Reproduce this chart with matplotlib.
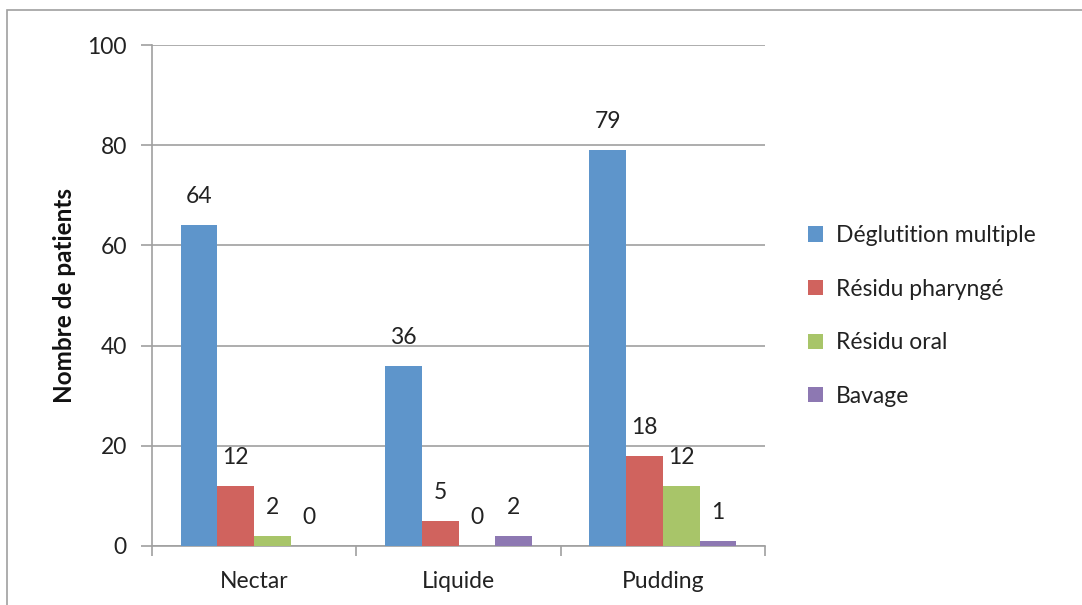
import matplotlib
matplotlib.use("Agg")
import matplotlib.pyplot as plt
from matplotlib.patches import Rectangle
import numpy as np

plt.rcParams['font.family'] = ['Lato', 'DejaVu Sans']

categories = ["Nectar", "Liquide", "Pudding"]
series_names = ["Déglutition multiple", "Résidu pharyngé", "Résidu oral", "Bavage"]
deglutition = [64, 36, 79]
residu_pharynge = [12, 5, 18]
residu_oral = [2, 0, 12]
bavage = [0, 2, 1]
colors = ["#5E95CB", "#D0635E", "#A8C569", "#8D78B2"]

W, H = 1082, 605
FS = 16.5
fig = plt.figure(figsize=(W / 100, H / 100), dpi=100)
fig.patches.append(Rectangle((7 / W, 0 - 0.1), 1.2, (H - 10) / H + 0.1, transform=fig.transFigure,
                             fill=False, edgecolor="#A0A0A0", linewidth=1.2))
ax = fig.add_axes([152 / W, (H - 546) / H, (765 - 152) / W, (546 - 45) / H])

values = [deglutition, residu_pharynge, residu_oral, bavage]
x = np.arange(len(categories))
bw = 0.18
for i, (name, vals, c) in enumerate(zip(series_names, values, colors)):
    pos = x - 1.5 * bw + i * bw
    ax.bar(pos, vals, bw, color=c, label=name, zorder=3)
    for p, v in zip(pos, vals):
        ax.annotate(str(v), (p, v), xytext=(0, 13), textcoords="offset points",
                    ha="center", va="bottom", fontsize=FS, color="#222222")

ax.set_xlim(-0.5, 2.5)
ax.set_ylim(0, 100)
ax.set_yticks([0, 20, 40, 60, 80, 100])
ax.set_xticks(x)
ax.set_xticklabels(categories, fontsize=FS, color="#222222")
ax.set_xticks([-0.5, 0.5, 1.5, 2.5], minor=True)
ax.tick_params(axis="x", which="major", length=0, pad=18)
ax.tick_params(axis="x", which="minor", length=7, color="#A0A0A0", width=1.2, direction="out")
ax.tick_params(axis="y", length=8, color="#A0A0A0", width=1.2, labelsize=FS, labelcolor="#222222", pad=10)
ax.grid(axis="y", color="#A0A0A0", linewidth=1.2, zorder=0)
for s in ["top", "right"]:
    ax.spines[s].set_visible(False)
for s in ["left", "bottom"]:
    ax.spines[s].set_color("#A0A0A0")
    ax.spines[s].set_linewidth(1.2)
ax.set_ylabel("Nombre de patients", fontsize=17.5, fontweight="bold", labelpad=8, color="#111111")

leg = ax.legend(loc="center left", bbox_to_anchor=(808 / W, (H - 316) / H), bbox_transform=fig.transFigure,
                frameon=False, fontsize=FS, handlelength=0.65, handleheight=0.65, labelspacing=1.42,
                handletextpad=0.55, borderpad=0, borderaxespad=0)
for t in leg.get_texts():
    t.set_color("#222222")

fig.savefig("out.png", dpi=100)
